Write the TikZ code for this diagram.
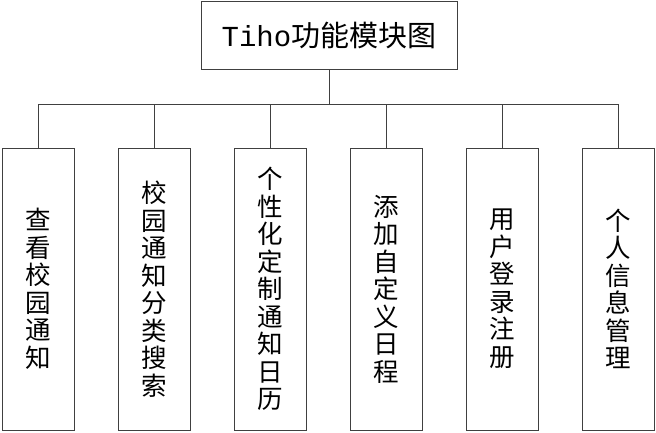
\documentclass[tikz,border=0pt]{standalone}
\usepackage{fontspec}
\setmainfont{Liberation Serif}
\setmonofont{Liberation Mono}
\newfontfamily\cjk{Noto Sans CJK SC}
\usepackage{xcolor}
\usepackage{tikz}
\usetikzlibrary{positioning,calc}
\definecolor{mLine}{HTML}{404040}

\tikzset{
  titlebox/.style={draw=mLine,line width=0.9pt,minimum width=256pt,minimum height=68pt,
    inner sep=0pt,font=\fontsize{29}{32}\selectfont},
  modbox/.style={draw=mLine,line width=0.9pt,minimum width=72pt,minimum height=282pt,
    inner sep=0pt,align=center,font=\cjk\fontsize{25.5}{27.5}\selectfont},
  link/.style={draw=mLine,line width=0.9pt}
}

\begin{document}
\begin{tikzpicture}[x=1pt,y=-1pt]
\useasboundingbox (0,0) rectangle (656,432);

\node[titlebox] (title) at (329,35) {\ttfamily Tiho{\cjk 功能模块图}};
\coordinate (bus) at (329,104);
\draw[link] (title.south) -- (bus);

\foreach \i/\lab in {
  0/{查\\看\\校\\园\\通\\知},
  1/{校\\园\\通\\知\\分\\类\\搜\\索},
  2/{个\\性\\化\\定\\制\\通\\知\\日\\历},
  3/{添\\加\\自\\定\\义\\日\\程},
  4/{用\\户\\登\\录\\注\\册},
  5/{个\\人\\信\\息\\管\\理}} {
  \node[modbox] (mod\i) at (38+116*\i,289) {\lab};
  \draw[link] (bus) -| (mod\i.north);
}
\end{tikzpicture}
\end{document}
